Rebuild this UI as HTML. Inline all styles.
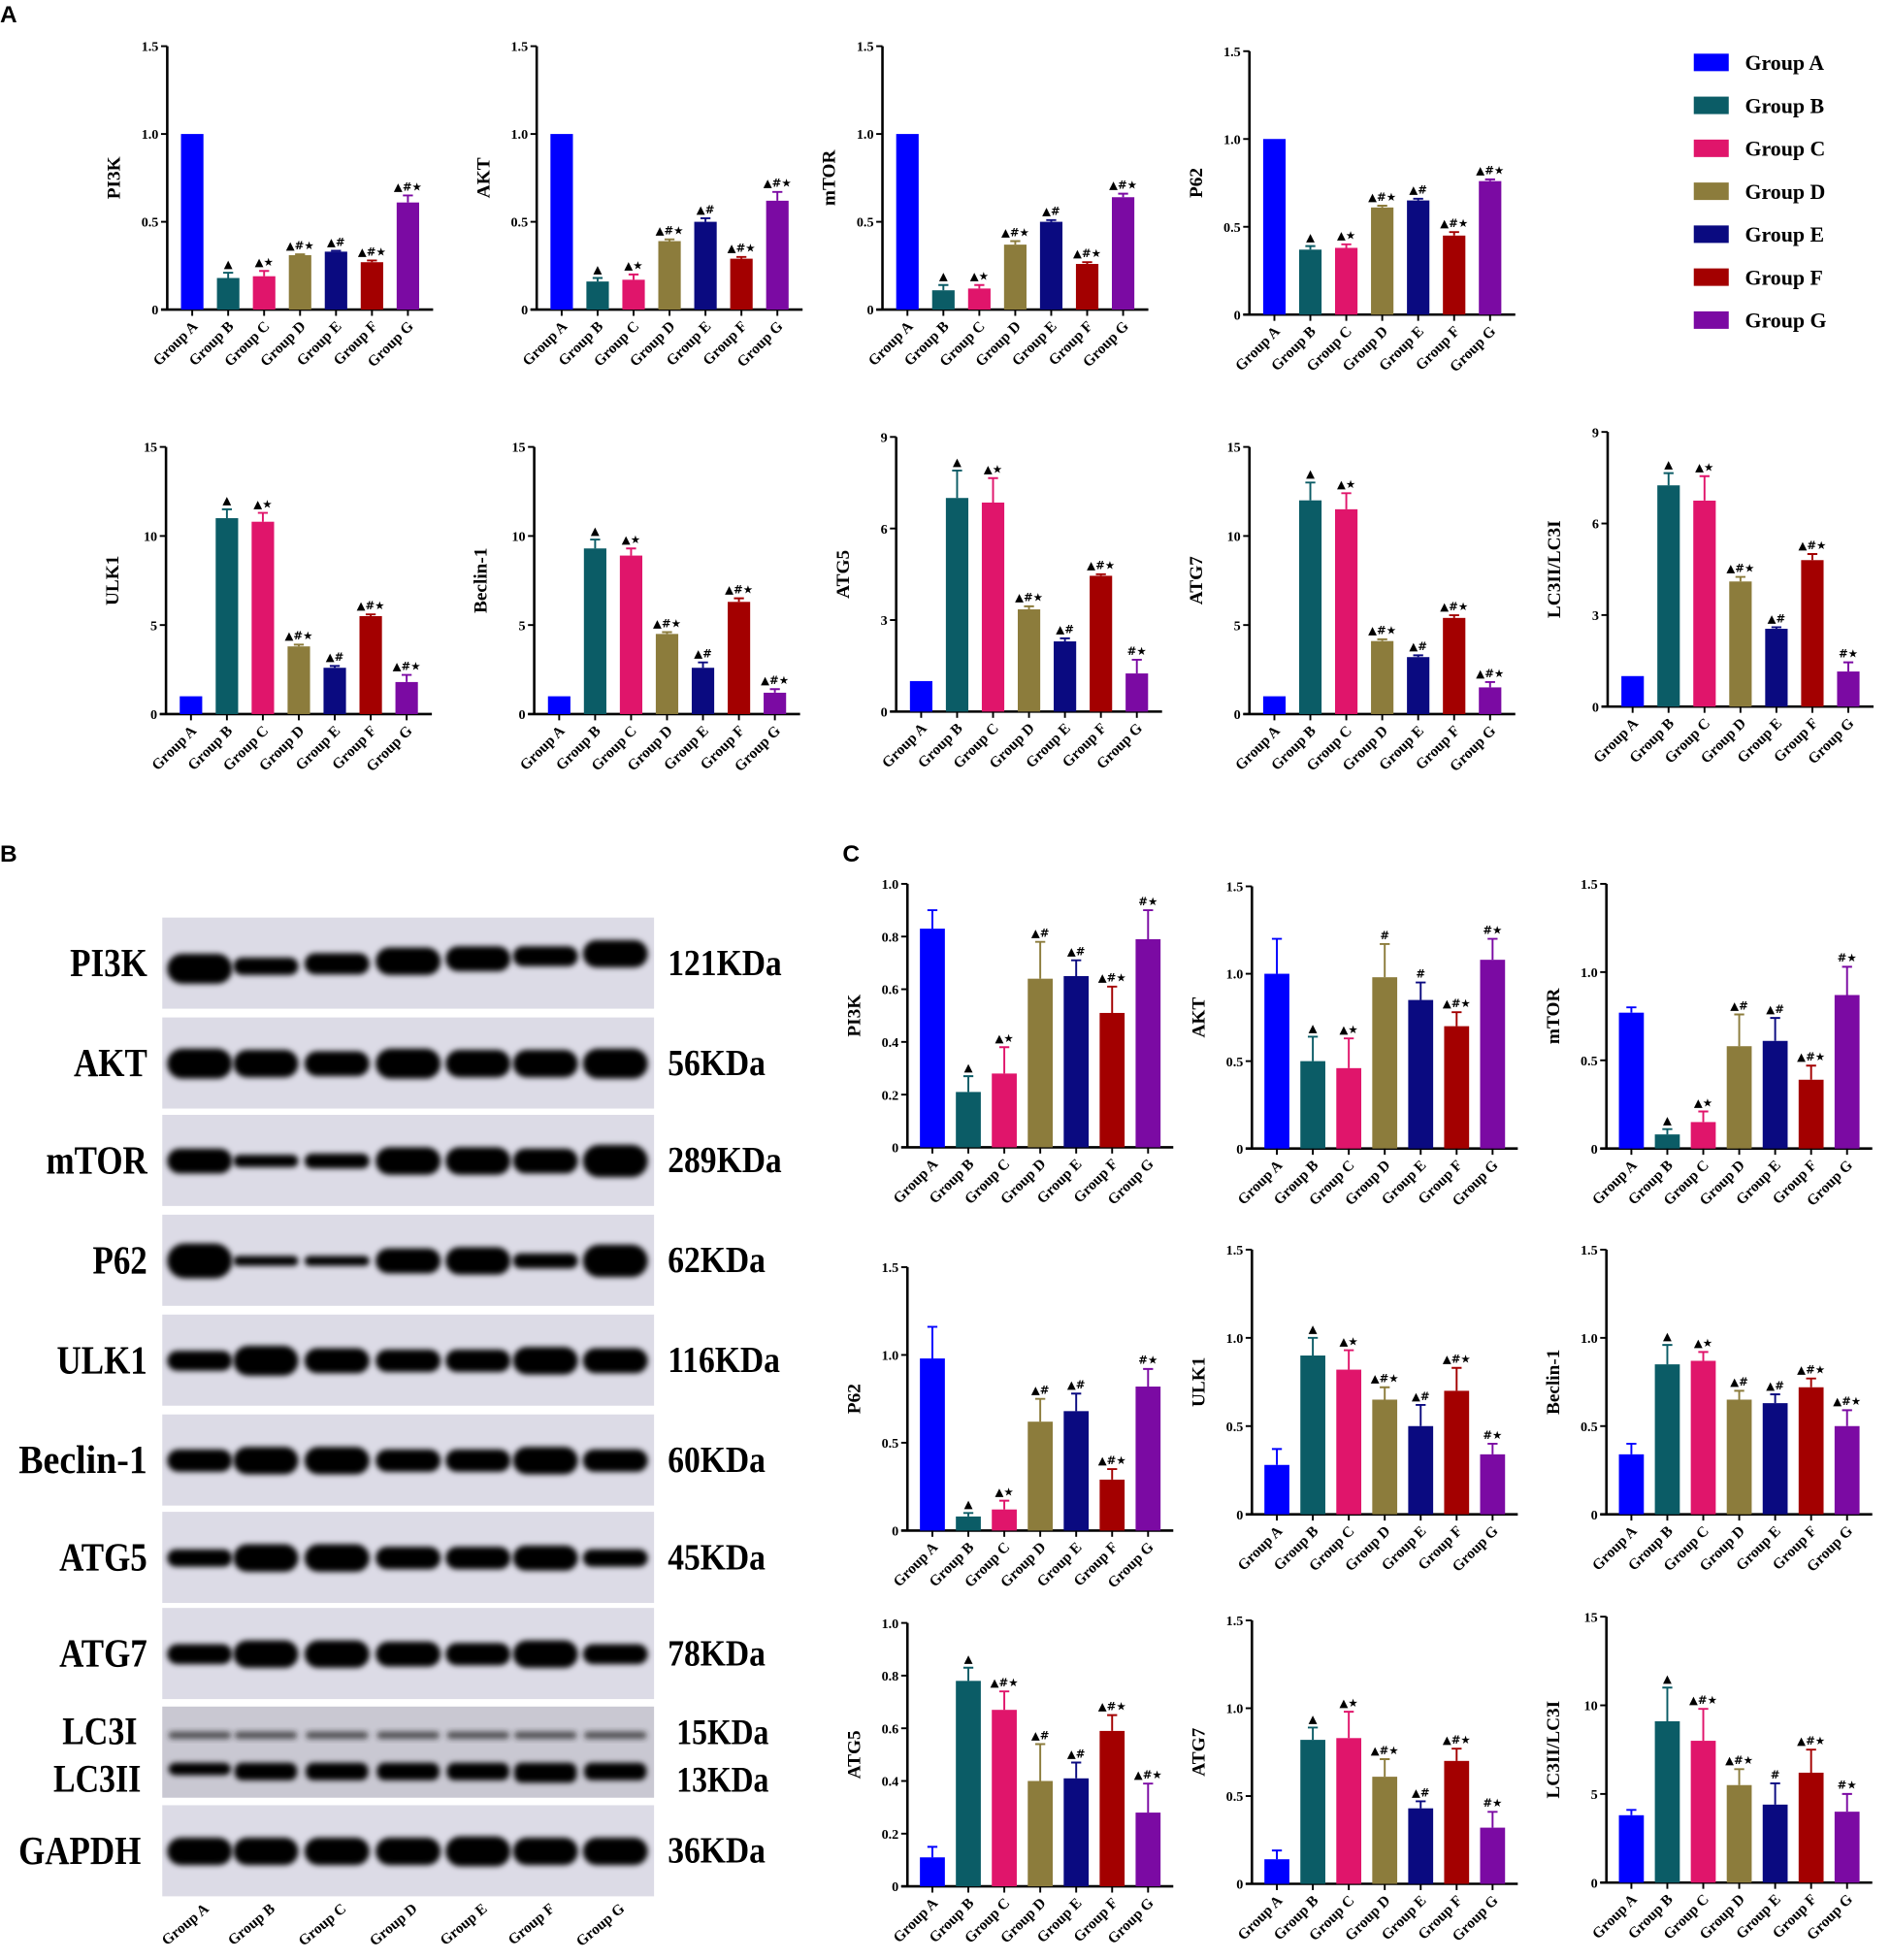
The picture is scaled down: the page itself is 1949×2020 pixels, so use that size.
<!DOCTYPE html>
<html><head><meta charset="utf-8"><style>
html,body{margin:0;padding:0;background:#fff;}
svg{display:block;}
text{font-family:"Liberation Serif",serif;font-weight:bold;}
</style></head><body>
<svg id="fig" width="1949" height="2020" viewBox="0 0 1515 1570" preserveAspectRatio="none" xmlns="http://www.w3.org/2000/svg">
<defs><filter id="blur" x="-30%" y="-60%" width="160%" height="220%"><feGaussianBlur stdDeviation="2.2"/></filter></defs>
<text x="0" y="18" font-size="19" style="font-family:'Liberation Sans',sans-serif">A</text>
<text x="0" y="690" font-size="19" style="font-family:'Liberation Sans',sans-serif">B</text>
<text x="675" y="690" font-size="19" style="font-family:'Liberation Sans',sans-serif">C</text>
<g id="charts"></g><g id="blot"></g><g id="legend"></g>
</svg>
<script>
const groups = ['Group A','Group B','Group C','Group D','Group E','Group F','Group G'];
const colors = ['#0000ff','#0b5c66','#e0156b','#8c7c3c','#0a0a80','#a30000','#7b0aa3'];
const ticks15 = [0,0.5,1.0,1.5];
const ticks15L = ['0','0.5','1.0','1.5'];
const ticksBig = [0,5,10,15];
const ticks9 = [0,3,6,9];
const ticks10 = [0,0.2,0.4,0.6,0.8,1.0];
const ticks10L = ['0','0.2','0.4','0.6','0.8','1.0'];
// Panel A values
const aPI3K = [1,0.18,0.19,0.31,0.33,0.27,0.61];
const aPI3Kerr = [0,0.03,0.03,0.005,0.005,0.01,0.04];
const aAKT = [1,0.16,0.17,0.39,0.5,0.29,0.62];
const aAKTerr = [0,0.02,0.03,0.01,0.02,0.01,0.05];
const aMTOR = [1,0.11,0.12,0.37,0.5,0.26,0.64];
const aMTORerr = [0,0.03,0.02,0.02,0.01,0.01,0.02];
const aP62 = [1,0.37,0.38,0.61,0.65,0.45,0.76];
const aP62err = [0,0.02,0.02,0.01,0.01,0.02,0.01];
const aULK1 = [1,11,10.8,3.8,2.6,5.5,1.8];
const aULK1err = [0,0.5,0.5,0.1,0.1,0.1,0.4];
const aBEC = [1,9.3,8.9,4.5,2.6,6.3,1.2];
const aBECerr = [0,0.5,0.4,0.1,0.3,0.2,0.2];
const aATG5 = [1,7.0,6.85,3.35,2.3,4.45,1.25];
const aATG5err = [0,0.9,0.8,0.1,0.1,0.05,0.45];
const aATG7 = [1,12,11.5,4.1,3.2,5.4,1.5];
const aATG7err = [0,1,0.9,0.1,0.1,0.15,0.3];
const aLC3 = [1,7.25,6.75,4.1,2.55,4.8,1.15];
const aLC3err = [0,0.4,0.8,0.15,0.05,0.2,0.3];
// Panel C values
const cPI3K = [0.83,0.21,0.28,0.64,0.65,0.51,0.79];
const cPI3Kerr = [0.07,0.06,0.1,0.14,0.06,0.1,0.11];
const cAKT = [1.0,0.5,0.46,0.98,0.85,0.7,1.08];
const cAKTerr = [0.2,0.14,0.17,0.19,0.1,0.08,0.12];
const cMTOR = [0.77,0.08,0.15,0.58,0.61,0.39,0.87];
const cMTORerr = [0.03,0.03,0.06,0.18,0.13,0.08,0.16];
const cP62 = [0.98,0.08,0.12,0.62,0.68,0.29,0.82];
const cP62err = [0.18,0.02,0.05,0.13,0.1,0.06,0.1];
const cULK1 = [0.28,0.9,0.82,0.65,0.5,0.7,0.34];
const cULK1err = [0.09,0.1,0.11,0.07,0.12,0.13,0.06];
const cBEC = [0.34,0.85,0.87,0.65,0.63,0.72,0.5];
const cBECerr = [0.06,0.11,0.05,0.05,0.05,0.05,0.09];
const cATG5 = [0.11,0.78,0.67,0.4,0.41,0.59,0.28];
const cATG5err = [0.04,0.05,0.07,0.14,0.06,0.06,0.11];
const cATG7 = [0.14,0.82,0.83,0.61,0.43,0.7,0.32];
const cATG7err = [0.05,0.07,0.15,0.1,0.04,0.07,0.09];
const cLC3 = [3.8,9.1,8.0,5.5,4.4,6.2,4.0];
const cLC3err = [0.3,1.9,1.8,0.9,1.2,1.3,1.0];
// significance labels
const sigA1 = ['','▲','▲★','▲#★','▲#','▲#★','▲#★'];
const sigA2 = ['','▲','▲★','▲#★','▲#','▲#★','▲#★'];
const sigA3 = ['','▲','▲★','▲#★','▲#','▲#★','#★'];
const sigC1 = ['','▲','▲★','▲#','▲#','▲#★','#★'];
const sigC2 = ['','▲','▲★','#','#','▲#★','#★'];
const sigC3 = ['','▲','▲★','▲#★','▲#','▲#★','#★'];
const sigC4 = ['','▲','▲★','▲#','▲#','▲#★','▲#★'];
const sigC5 = ['','▲','▲#★','▲#','▲#','▲#★','▲#★'];
const sigC6 = ['','▲','▲#★','▲#★','#','▲#★','#★'];

const charts = [
 {id:'a-pi3k',title:'PI3K',v:aPI3K,e:aPI3Kerr,s:sigA1,t:ticks15,tl:ticks15L,max:1.5,x:134,top:37,bot:248,bw:18},
 {id:'a-akt',title:'AKT',v:aAKT,e:aAKTerr,s:sigA1,t:ticks15,tl:ticks15L,max:1.5,x:430,top:37,bot:248,bw:18},
 {id:'a-mtor',title:'mTOR',v:aMTOR,e:aMTORerr,s:sigA1,t:ticks15,tl:ticks15L,max:1.5,x:707,top:37,bot:248,bw:18},
 {id:'a-p62',title:'P62',v:aP62,e:aP62err,s:sigA1,t:ticks15,tl:ticks15L,max:1.5,x:1001,top:41,bot:252,bw:18},
 {id:'a-ulk1',title:'ULK1',v:aULK1,e:aULK1err,s:sigA2,t:ticksBig,tl:ticksBig,max:15,x:133,top:358,bot:572,bw:18},
 {id:'a-beclin',title:'Beclin-1',v:aBEC,e:aBECerr,s:sigA2,t:ticksBig,tl:ticksBig,max:15,x:428,top:358,bot:572,bw:18},
 {id:'a-atg5',title:'ATG5',v:aATG5,e:aATG5err,s:sigA3,t:ticks9,tl:ticks9,max:9,x:718,top:350,bot:570,bw:18},
 {id:'a-atg7',title:'ATG7',v:aATG7,e:aATG7err,s:sigA2,t:ticksBig,tl:ticksBig,max:15,x:1001,top:358,bot:572,bw:18},
 {id:'a-lc3',title:'LC3II/LC3I',v:aLC3,e:aLC3err,s:sigA3,t:ticks9,tl:ticks9,max:9,x:1288,top:346,bot:566,bw:18},
 {id:'c-pi3k',title:'PI3K',v:cPI3K,e:cPI3Kerr,s:sigC1,t:ticks10,tl:ticks10L,max:1.0,x:727,top:708,bot:919,bw:20},
 {id:'c-akt',title:'AKT',v:cAKT,e:cAKTerr,s:sigC2,t:ticks15,tl:ticks15L,max:1.5,x:1003,top:710,bot:920,bw:20},
 {id:'c-mtor',title:'mTOR',v:cMTOR,e:cMTORerr,s:sigC1,t:ticks15,tl:ticks15L,max:1.5,x:1287,top:708,bot:920,bw:20},
 {id:'c-p62',title:'P62',v:cP62,e:cP62err,s:sigC1,t:ticks15,tl:ticks15L,max:1.5,x:727,top:1015,bot:1226,bw:20},
 {id:'c-ulk1',title:'ULK1',v:cULK1,e:cULK1err,s:sigC3,t:ticks15,tl:ticks15L,max:1.5,x:1003,top:1001,bot:1213,bw:20},
 {id:'c-beclin',title:'Beclin-1',v:cBEC,e:cBECerr,s:sigC4,t:ticks15,tl:ticks15L,max:1.5,x:1287,top:1001,bot:1213,bw:20},
 {id:'c-atg5',title:'ATG5',v:cATG5,e:cATG5err,s:sigC5,t:ticks10,tl:ticks10L,max:1.0,x:727,top:1300,bot:1511,bw:20},
 {id:'c-atg7',title:'ATG7',v:cATG7,e:cATG7err,s:sigC3,t:ticks15,tl:ticks15L,max:1.5,x:1003,top:1298,bot:1509,bw:20},
 {id:'c-lc3',title:'LC3II/LC3I',v:cLC3,e:cLC3err,s:sigC6,t:ticksBig,tl:ticksBig,max:15,x:1287,top:1295,bot:1508,bw:20}
];
const NS='http://www.w3.org/2000/svg';
function mk(tag,attrs,parent){const el=document.createElementNS(NS,tag);for(const k in attrs)el.setAttribute(k,attrs[k]);if(parent)parent.appendChild(el);return el;}
const root=document.getElementById('charts');
charts.forEach(c=>{
  const g=mk('g',{},root);
  
  
  const y=v=>c.bot-(v/c.max)*(c.bot-c.top);
  const xc=i=>c.x+20+i*28.8;
  const ax=mk('path',{d:`M${c.x} ${c.top}V${c.bot}M${c.x-5} ${c.bot}H${c.x+213}`,stroke:'#000','stroke-width':2,fill:'none'},g);
  
  
  c.t.forEach((tv,k)=>{
    mk('line',{x1:c.x-5,x2:c.x,y1:y(tv),y2:y(tv),stroke:'#000','stroke-width':1.5},g);
    const tl=mk('text',{x:c.x-7,y:y(tv)+4,'font-size':11,'text-anchor':'end'},g);
    tl.textContent=c.tl[k];
    
    
  });
  const yt=mk('text',{x:0,y:0,'font-size':15,'text-anchor':'middle',transform:`translate(${c.x-38},${(c.top+c.bot)/2}) rotate(-90)`},g);
  yt.textContent=c.title;
  
  
  c.v.forEach((v,i)=>{
    const cx=xc(i);
    const b=mk('rect',{x:cx-c.bw/2,y:y(v),width:c.bw,height:c.bot-y(v),fill:colors[i]},g);
    
    
    const et=y(v+c.e[i]);
    if(c.e[i]>0){
      mk('path',{d:`M${cx} ${y(v)}V${et}M${cx-4} ${et}H${cx+4}`,stroke:colors[i],'stroke-width':1.5,fill:'none'},g);
    }
    if(c.s[i]){
      const st=mk('text',{x:cx,y:et-4,'font-size':9,'text-anchor':'middle',style:"font-family:'DejaVu Sans',sans-serif"},g);
      st.textContent=c.s[i];
      
      
    }
    mk('line',{x1:cx,x2:cx,y1:c.bot,y2:c.bot+5,stroke:'#000','stroke-width':1.5},g);
    const xl=mk('text',{x:0,y:0,'font-size':12,'text-anchor':'end',transform:`translate(${cx+5},${c.bot+14}) rotate(-45)`},g);
    xl.textContent=groups[i];
    
    
  });
});
// legend
const lg=document.getElementById('legend');
groups.forEach((gname,i)=>{
  const yy=50+i*34.4;
  const r=mk('rect',{x:1357,y:yy-7,width:28,height:14,fill:colors[i]},lg);
  
  
  const t=mk('text',{x:1398,y:yy+6,'font-size':17},lg);
  t.textContent=gname;
  
  
});
// western blot
const blotRows=['PI3K','AKT','mTOR','P62','ULK1','Beclin-1','ATG5','ATG7','LC3','GAPDH'];
const blotKDa=['121KDa','56KDa','289KDa','62KDa','116KDa','60KDa','45KDa','78KDa','','36KDa'];
const blotTop=[735,815,893,973,1053,1133,1211,1288,1367,1446];
const bandThick=[
 [24,14,17,22,20,16,22],[24,22,20,24,22,22,24],[20,10,12,22,22,20,26],[28,8,8,20,22,12,26],
 [16,24,20,18,18,22,20],[18,22,22,18,18,22,18],[14,22,22,18,18,20,14],[16,22,22,20,18,22,16],
 [10,14,14,14,14,16,14],[22,22,22,22,24,22,22]];
const laneX=[160,213,270,327,383,437,493];
const bl=document.getElementById('blot');
function condensed(el,x,sx){el.setAttribute('transform',`translate(${x},0) scale(${sx},1) translate(${-x},0)`);}
blotRows.forEach((name,r)=>{
  const top=blotTop[r];
  const bg=mk('rect',{x:130,y:top,width:394,height:73,fill:r===8?'#c9c8d2':'#dcdbe6'},bl);
  
  
  if(r===8){
    laneX.forEach((lx,i)=>{
      mk('rect',{x:lx-25,y:top+20,width:50,height:6,rx:3,fill:'#222',filter:'url(#blur)',opacity:0.7},bl);
      mk('rect',{x:lx-25,y:top+45,width:50,height:bandThick[r][i],rx:6,fill:'#000',filter:'url(#blur)'},bl);
    });
    const l1=mk('text',{x:110,y:top+30,'font-size':31,'text-anchor':'end'},bl);l1.textContent='LC3I';condensed(l1,110,0.85);
    
    const l2=mk('text',{x:113,y:top+68,'font-size':31,'text-anchor':'end'},bl);l2.textContent='LC3II';condensed(l2,113,0.85);
    
    const k1=mk('text',{x:542,y:top+30,'font-size':29},bl);k1.textContent='15KDa';condensed(k1,542,0.85);
    
    const k2=mk('text',{x:542,y:top+68,'font-size':29},bl);k2.textContent='13KDa';condensed(k2,542,0.85);
    
  } else {
    laneX.forEach((lx,i)=>{
      const h=bandThick[r][i];
      const cy=top+37-(r===0?i*2-4:0);
      const b=mk('rect',{x:lx-26,y:cy-h/2,width:52,height:h,rx:h/2,fill:'#000',filter:'url(#blur)'},bl);
      
      
    });
    const lx0=name==='GAPDH'?113:118;
    const l=mk('text',{x:lx0,y:top+47,'font-size':32,'text-anchor':'end'},bl);l.textContent=name;
    condensed(l,lx0,name==='Beclin-1'?0.92:0.85);
    
    const k=mk('text',{x:535,y:top+46,'font-size':30},bl);k.textContent=blotKDa[r];
    condensed(k,535,0.87);
    
  }
});
laneX.forEach((lx,i)=>{
  const t=mk('text',{x:0,y:0,'font-size':12,'text-anchor':'end',transform:`translate(${lx+8},${1530}) rotate(-40)`},bl);
  t.textContent=groups[i];
  
  
});
</script>
</body></html>
